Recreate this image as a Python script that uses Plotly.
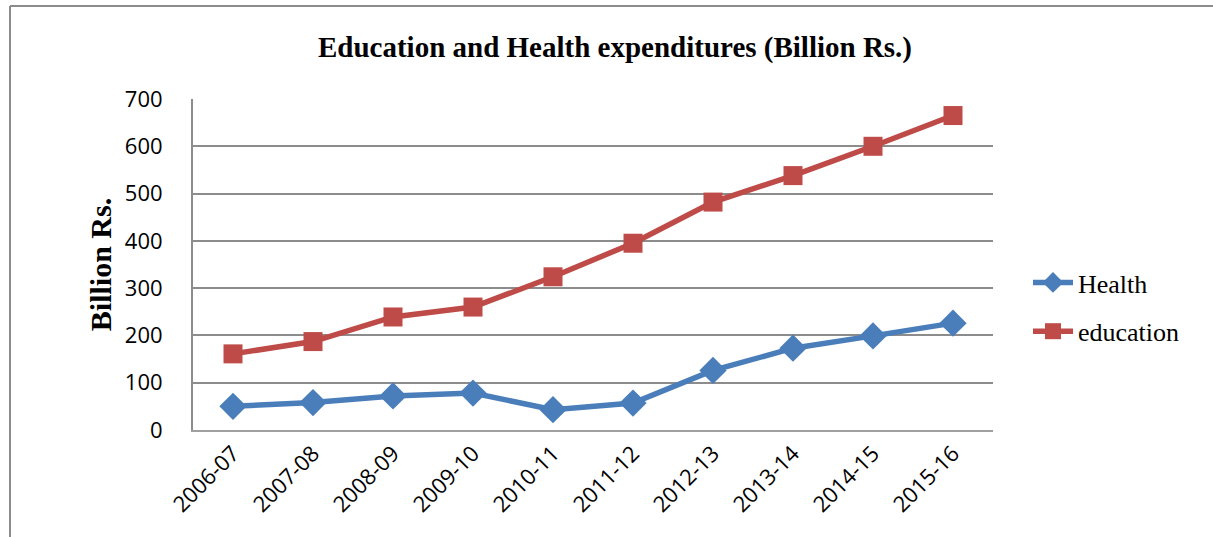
import plotly.graph_objects as go

categories = ["2006-07", "2007-08", "2008-09", "2009-10", "2010-11",
              "2011-12", "2012-13", "2013-14", "2014-15", "2015-16"]
health = [50, 58, 72, 78, 43, 57, 126, 173, 199, 226]
education = [161, 187, 239, 260, 324, 395, 482, 538, 600, 665]
y_ticks = [0, 100, 200, 300, 400, 500, 600, 700]

fig = go.Figure()
fig.add_trace(go.Scatter(
    x=categories, y=health, name="Health", mode="lines+markers",
    legendgroup="h",
    line=dict(color="#4A7EBB", width=5.5),
    marker=dict(symbol="diamond", size=21, color="#4A7EBB"),
))
fig.add_trace(go.Scatter(
    x=categories, y=education, name="education", mode="lines+markers",
    legendgroup="e",
    line=dict(color="#BE4B48", width=5.5),
    marker=dict(symbol="square", size=19, color="#BE4B48"),
))

L, R, T, B = 193, 220, 99, 107
W, H = 1213, 537
pw, ph = W - L - R, H - T - B

def px(x):
    return (x - L) / pw

def py(y):
    return (H - B - y) / ph

fig.update_layout(
    width=W, height=H,
    margin=dict(l=L, r=R, t=T, b=B),
    paper_bgcolor="white", plot_bgcolor="white",
    title=dict(text="<b>Education and Health expenditures (Billion Rs.)</b>",
               x=px(615), xref="paper", xanchor="center",
               y=1 - 47 / H, yanchor="middle",
               font=dict(family="Liberation Serif", size=29, color="black")),
    showlegend=True,
    legend=dict(x=px(1028), y=py(307), xanchor="left", yanchor="middle",
                font=dict(family="Liberation Serif", size=26, color="black"),
                bgcolor="rgba(0,0,0,0)", tracegroupgap=12, itemwidth=40),
    xaxis=dict(type="category", categoryorder="array", categoryarray=categories,
               tickangle=-45, showgrid=False, showline=True, linecolor="#A0A0A0",
               linewidth=2, ticks="", tickfont=dict(family="Open Sans", size=22, color="black"),
               range=[-0.5, 9.5]),
    yaxis=dict(range=[0, 700], tickvals=y_ticks, showgrid=True, gridcolor="#8C8C8C",
               gridwidth=2, showline=True, linecolor="#8C8C8C", linewidth=2,
               zeroline=False, ticks="", ticklabelstandoff=24,
               tickfont=dict(family="Open Sans", size=22, color="black"),
               title=dict(text="<b>Billion Rs.</b>", standoff=4,
                          font=dict(family="Liberation Serif", size=30, color="black"))),
    shapes=[
        dict(type="line", xref="paper", yref="paper", x0=px(10), x1=px(1213),
             y0=py(6), y1=py(6), line=dict(color="#8C8C8C", width=2)),
        dict(type="line", xref="paper", yref="paper", x0=px(10), x1=px(10),
             y0=py(6), y1=py(537), line=dict(color="#8C8C8C", width=2)),
    ],
)

fig.write_html("out.html")
